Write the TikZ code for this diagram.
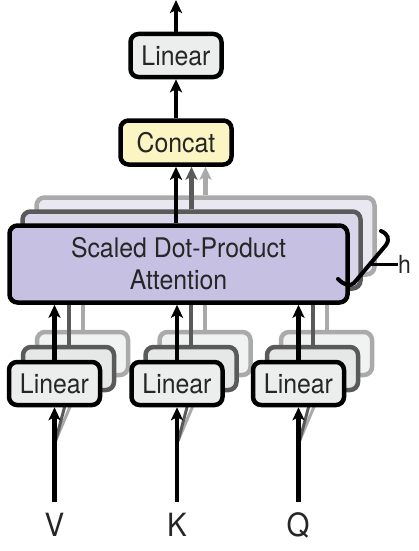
\documentclass[tikz,border=0pt]{standalone}
\usepackage{fontspec}
\setmainfont{TeX Gyre Heros}[FakeStretch=0.92]
\usetikzlibrary{arrows.meta}
\definecolor{sdpafill}{HTML}{C6C1E2}
\definecolor{sdpaBfill}{HTML}{D9D6EA}
\definecolor{sdpaCfill}{HTML}{E9E8F0}
\definecolor{linfill}{HTML}{ECEEEE}
\definecolor{linBfill}{HTML}{E6E7E7}
\definecolor{linCfill}{HTML}{F1F2F2}
\definecolor{concatfill}{HTML}{FAF5C2}
\definecolor{txt}{HTML}{262626}
\definecolor{edgeB}{HTML}{5A5A5A}
\definecolor{edgeC}{HTML}{AAAAAA}
\begin{document}
\begin{tikzpicture}[x=1pt,y=-1pt,
  box/.style={draw=black, line width=4.5pt, rounded corners=8pt, inner sep=0pt,
    font=\fontsize{27}{31}\selectfont, text=txt, align=center},
  linbox/.style={box, fill=linfill, minimum width=91pt, minimum height=43pt},
  linboxB/.style={linbox, draw=edgeB, fill=linBfill},
  linboxC/.style={linbox, draw=edgeC, fill=linCfill},
  sdpabox/.style={box, fill=sdpafill, minimum width=338pt, minimum height=77pt},
  sdpaboxB/.style={sdpabox, draw=edgeB, fill=sdpaBfill},
  sdpaboxC/.style={sdpabox, draw=edgeC, fill=sdpaCfill},
  arr/.style={line width=4.5pt, -{Stealth[length=13pt,width=12pt,inset=3pt]}},
  grayline/.style={line width=4pt},
  lbl/.style={font=\fontsize{32}{36}\selectfont, text=txt, inner sep=0pt},
]
\useasboundingbox (0,0) rectangle (418,551);

% ---- back copies of SDPA
\node[sdpaboxC] (sdpac) at (205.5,236) {};
\node[sdpaboxB] (sdpab) at (191.5,250) {};

% ---- back copies of Linear boxes
\node[linboxC] (l1c) at (82.5,353.5) {};
\node[linboxC] (l2c) at (205,353.5) {};
\node[linboxC] (l3c) at (326.5,353.5) {};
\node[linboxB] (l1b) at (68.5,368.5) {};
\node[linboxB] (l2b) at (191,368.5) {};
\node[linboxB] (l3b) at (312.5,368.5) {};

% gray lines from back Linear copies up to SDPA
\foreach \n in {1,2,3}{
  \draw[grayline, draw=edgeC] (l\n c.north) -- (l\n c.north |- sdpac.south);
  \draw[grayline, draw=edgeB] (l\n b.north) -- (l\n b.north |- sdpab.south);
}

% input coordinates
\coordinate (vin) at (54.5,502);
\coordinate (kin) at (177,502);
\coordinate (qin) at (298.5,502);
\coordinate (vg) at (55.5,441);
\coordinate (kg) at (178,441);
\coordinate (qg) at (299.5,441);
\draw[line width=3pt, draw=edgeC] (vg) -- (l1c.south);
\draw[line width=3pt, draw=edgeB] (vg) -- (l1b.south);
\draw[line width=3pt, draw=edgeC] (kg) -- (l2c.south);
\draw[line width=3pt, draw=edgeB] (kg) -- (l2b.south);
\draw[line width=3pt, draw=edgeC] (qg) -- (l3c.south);
\draw[line width=3pt, draw=edgeB] (qg) -- (l3b.south);

% ---- front boxes
\node[sdpabox] (sdpa) at (178.5,264) {Scaled Dot-Product\\[1pt]Attention};
\node[linbox] (l1) at (54.5,383.5) {Linear};
\node[linbox] (l2) at (177,383.5) {Linear};
\node[linbox] (l3) at (298.5,383.5) {Linear};
\node[box, fill=concatfill, minimum width=111pt, minimum height=44pt] (concat) at (176,142.5) {Concat};
\node[linbox] (top) at (176,55.5) {Linear};
\coordinate (out) at (176,0);

% ---- arrows
\draw[arr] (vin) -- (l1.south);
\draw[arr] (kin) -- (l2.south);
\draw[arr] (qin) -- (l3.south);
\draw[arr] (l1.north) -- (l1.north |- sdpa.south);
\draw[arr] (l2.north) -- (l2.north |- sdpa.south);
\draw[arr] (l3.north) -- (l3.north |- sdpa.south);
\draw[arr, draw=edgeC] (sdpac.north) -- (sdpac.north |- concat.south);
\draw[arr, draw=edgeB] (sdpab.north) -- (sdpab.north |- concat.south);
\draw[arr] (concat.south |- sdpa.north) -- (concat.south);
\draw[arr] (concat.north) -- (top.south);
\draw[arr] (top.north) -- (out);

% ---- labels
\node[lbl] (V) at (54.5,525) {V};
\node[lbl] (K) at (177,525) {K};
\node[lbl] (Q) at (298,525) {Q};

% ---- h brace
\draw[line width=4pt, line cap=round, line join=round]
  (381,231) .. controls (388,234) and (390,239) .. (386,245)
  -- (354,283) .. controls (350,287) and (344,285) .. (338,279);
\node[lbl, font=\fontsize{25}{29}\selectfont, anchor=west] (h) at (398,264) {h};
\coordinate (tick) at (371,264);
\draw[line width=3pt] (tick) -- (h.west);
\end{tikzpicture}
\end{document}
